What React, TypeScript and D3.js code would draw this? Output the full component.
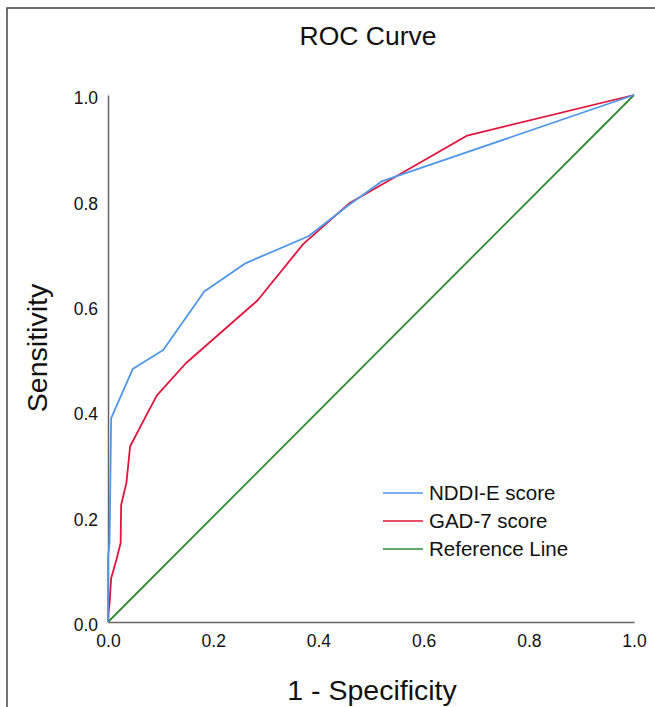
import React, { useEffect, useRef } from 'react';
import * as d3 from 'd3';

// ROC points: [1 - specificity, sensitivity]
const nddiFpr = [0, 0, 0.003, 0.006, 0.047, 0.105, 0.183, 0.262, 0.381, 0.456, 0.52, 1];
const nddiTpr = [0, 0.123, 0.15, 0.387, 0.48, 0.516, 0.627, 0.681, 0.732, 0.79, 0.836, 1];

const gadFpr = [0, 0.001, 0.003, 0.006, 0.016, 0.024, 0.025, 0.035, 0.042, 0.07, 0.093, 0.148, 0.285, 0.371, 0.458, 0.683, 1];
const gadTpr = [0, 0.02, 0.035, 0.083, 0.118, 0.15, 0.222, 0.264, 0.333, 0.387, 0.43, 0.491, 0.611, 0.717, 0.794, 0.923, 1];

const refFpr = [0, 1];
const refTpr = [0, 1];

const seriesNames = ['NDDI-E score', 'GAD-7 score', 'Reference Line'];
const seriesColors = ['#4f97e8', '#e0143c', '#2e8b34'];
const ticks = [0, 0.2, 0.4, 0.6, 0.8, 1.0];

export default function App() {
  const svgRef = useRef<SVGSVGElement>(null);

  useEffect(() => {
    const svg = d3.select(svgRef.current);
    svg.selectAll('*').remove();

    const width = 655;
    const height = 707;
    const margin = { top: 95, left: 108, right: 21, bottom: 85 };
    const innerW = width - margin.left - margin.right;
    const innerH = height - margin.top - margin.bottom;
    const font = '"Liberation Sans", Arial, sans-serif';

    svg.append('rect').attr('width', width).attr('height', height).attr('fill', '#fff');

    // frame (top and left only, rest is cropped)
    svg.append('path')
      .attr('d', `M7,${height} V8 H${width}`)
      .attr('fill', 'none')
      .attr('stroke', '#444')
      .attr('stroke-width', 1.5);

    const x = d3.scaleLinear().domain([0, 1]).range([0, innerW]);
    const y = d3.scaleLinear().domain([0, 1]).range([innerH, 0]);

    const g = svg.append('g').attr('transform', `translate(${margin.left},${margin.top})`);

    svg.append('text')
      .attr('x', 368)
      .attr('y', 45)
      .attr('text-anchor', 'middle')
      .style('font', `26.5px ${font}`)
      .attr('fill', '#111')
      .text('ROC Curve');

    const yAxis = d3.axisLeft(y).tickValues(ticks).tickSize(0).tickPadding(10).tickFormat(d3.format('.1f'));
    const yG = g.append('g').call(yAxis);
    yG.select('.domain').attr('stroke', '#666').attr('stroke-width', 1.5);
    yG.selectAll('text').style('font', `17.5px ${font}`).attr('fill', '#111').attr('dy', '0.5em');

    const xAxis = d3.axisBottom(x).tickValues(ticks).tickSize(0).tickPadding(13).tickFormat(d3.format('.1f'));
    const xG = g.append('g').attr('transform', `translate(0,${innerH})`).call(xAxis);
    xG.select('.domain').attr('stroke', '#666').attr('stroke-width', 1.5);
    xG.selectAll('text').style('font', `17.5px ${font}`).attr('fill', '#111');

    svg.append('text')
      .attr('transform', `translate(47,348) rotate(-90)`)
      .attr('text-anchor', 'middle')
      .style('font', `28.5px ${font}`)
      .attr('fill', '#111')
      .text('Sensitivity');

    svg.append('text')
      .attr('x', 372)
      .attr('y', 700)
      .attr('text-anchor', 'middle')
      .style('font', `28.5px ${font}`)
      .attr('fill', '#111')
      .text('1 - Specificity');

    const series = [
      { fpr: refFpr, tpr: refTpr, color: seriesColors[2] },
      { fpr: gadFpr, tpr: gadTpr, color: seriesColors[1] },
      { fpr: nddiFpr, tpr: nddiTpr, color: seriesColors[0] },
    ];
    series.forEach(s => {
      const pts: [number, number][] = s.fpr.map((f, i) => [x(f), y(s.tpr[i])]);
      g.append('path')
        .attr('d', d3.line()(pts))
        .attr('fill', 'none')
        .attr('stroke', s.color)
        .attr('stroke-width', 1.8)
        .attr('stroke-linejoin', 'round');
    });

    // legend, clipped like the original export
    const defs = svg.append('defs');
    defs.append('clipPath').attr('id', 'legclip')
      .append('rect').attr('x', 370).attr('y', 470).attr('width', 200).attr('height', 100);
    const leg = svg.append('g').attr('clip-path', 'url(#legclip)');
    seriesNames.forEach((name, i) => {
      const ly = 493 + i * 28;
      leg.append('line')
        .attr('x1', 383).attr('x2', 423)
        .attr('y1', ly).attr('y2', ly)
        .attr('stroke', seriesColors[i])
        .attr('stroke-width', 1.5);
      leg.append('text')
        .attr('x', 429)
        .attr('y', ly + 7)
        .style('font', `20.5px ${font}`)
        .attr('fill', '#111')
        .text(name);
    });
  }, []);

  return (
    <svg ref={svgRef} width={655} height={707} style={{ position: 'absolute', left: 0, top: 0 }} />
  );
}
